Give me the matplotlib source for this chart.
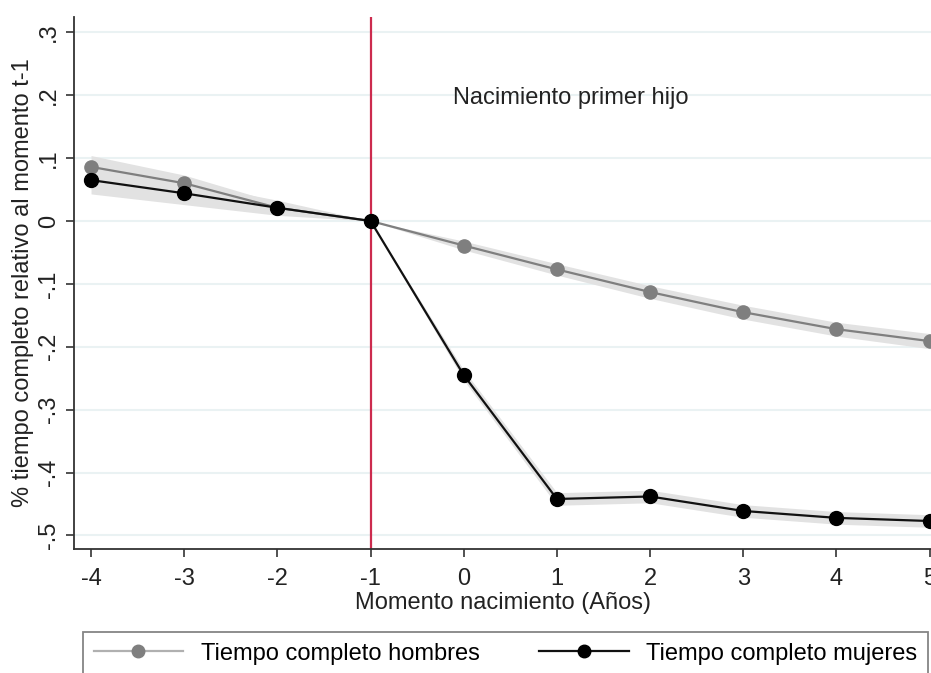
import matplotlib
matplotlib.use("Agg")
import matplotlib.pyplot as plt
from matplotlib.lines import Line2D
import numpy as np

plt.rcParams['font.family'] = ['Liberation Sans', 'DejaVu Sans']

# Data
x_years = [-4, -3, -2, -1, 0, 1, 2, 3, 4, 5]
hombres = [0.086, 0.060, 0.021, 0.0, -0.039, -0.077, -0.113, -0.145, -0.172, -0.191]
hombres_ci = [0.018, 0.013, 0.008, 0.0, 0.007, 0.009, 0.010, 0.011, 0.011, 0.012]
mujeres = [0.065, 0.044, 0.021, 0.0, -0.245, -0.442, -0.438, -0.461, -0.472, -0.477]
mujeres_ci = [0.022, 0.018, 0.012, 0.0, 0.008, 0.010, 0.010, 0.010, 0.010, 0.010]
y_ticks = [0.3, 0.2, 0.1, 0.0, -0.1, -0.2, -0.3, -0.4, -0.5]
y_ticklabels = [".3", ".2", ".1", "0", "-.1", "-.2", "-.3", "-.4", "-.5"]
x_ticks = [-4, -3, -2, -1, 0, 1, 2, 3, 4, 5]
event_x = -1
labels = ["Tiempo completo hombres", "Tiempo completo mujeres"]

FS = 17
W, H = 931, 673
fig = plt.figure(figsize=(W / 100, H / 100), dpi=100)
ax = fig.add_axes([74 / W, 1 - 549 / H, (W - 74) / W + 0.002, (549 - 17) / H])

xs = np.array(x_years)
h = np.array(hombres); hc = np.array(hombres_ci)
m = np.array(mujeres); mc = np.array(mujeres_ci)

for yt in y_ticks:
    ax.axhline(yt, color='#eaf2f3', lw=1.5, zorder=0)

ax.fill_between(xs, h - hc, h + hc, color='#e2e2e2', lw=0, zorder=1)
ax.fill_between(xs, m - mc, m + mc, color='#e2e2e2', lw=0, zorder=1)

ax.axvline(event_x, color='#cc2b4e', lw=1.6, zorder=2)

ax.plot(xs, h, color='#7f7f7f', lw=1.6, marker='o', markersize=9.5,
        markerfacecolor='#7f7f7f', markeredgecolor='#7f7f7f', zorder=3)
ax.plot(xs, m, color='#111111', lw=1.6, marker='o', markersize=10,
        markerfacecolor='black', markeredgecolor='black', zorder=4)

ax.text(1.15, 0.196, "Nacimiento primer hijo", fontsize=FS, ha='center', va='center',
        color='#222222')

ax.set_xlim(-4.183, 5.035)
ax.set_ylim(-0.5215, 0.3243)
ax.set_yticks(y_ticks)
ax.set_yticklabels(y_ticklabels, rotation=90, va='center')
ax.set_xticks(x_ticks)
ax.set_xticklabels([str(v) for v in x_ticks])

for s in ['top', 'right']:
    ax.spines[s].set_visible(False)
for s in ['left', 'bottom']:
    ax.spines[s].set_color('#333333')
    ax.spines[s].set_linewidth(1.3)
ax.tick_params(axis='both', direction='out', length=6, width=1.2, color='#333333',
               labelsize=FS, labelcolor='#222222')
ax.tick_params(axis='x', pad=8)
ax.tick_params(axis='y', pad=4)

ax.set_xlabel("Momento nacimiento (Años)", fontsize=FS, color='#222222', labelpad=1)
ax.set_ylabel("% tiempo completo relativo al momento t-1", fontsize=FS, color='#222222',
              labelpad=3)

handles = [
    Line2D([0], [0], color='#b0b0b0', lw=1.6, marker='o', markersize=9,
           markerfacecolor='#7f7f7f', markeredgecolor='#7f7f7f'),
    Line2D([0], [0], color='#111111', lw=1.6, marker='o', markersize=9,
           markerfacecolor='black', markeredgecolor='black'),
]
leg = fig.legend(handles, labels, loc='upper left', bbox_to_anchor=(83 / W, 1 - 632 / H),
                 ncol=2, fontsize=FS, frameon=True, fancybox=False, handlelength=3.8,
                 handletextpad=0.75, columnspacing=2.5, borderpad=0.45, borderaxespad=0)
leg.get_frame().set_edgecolor('#666666')
leg.get_frame().set_linewidth(1.3)

fig.savefig("out.png", dpi=100)
